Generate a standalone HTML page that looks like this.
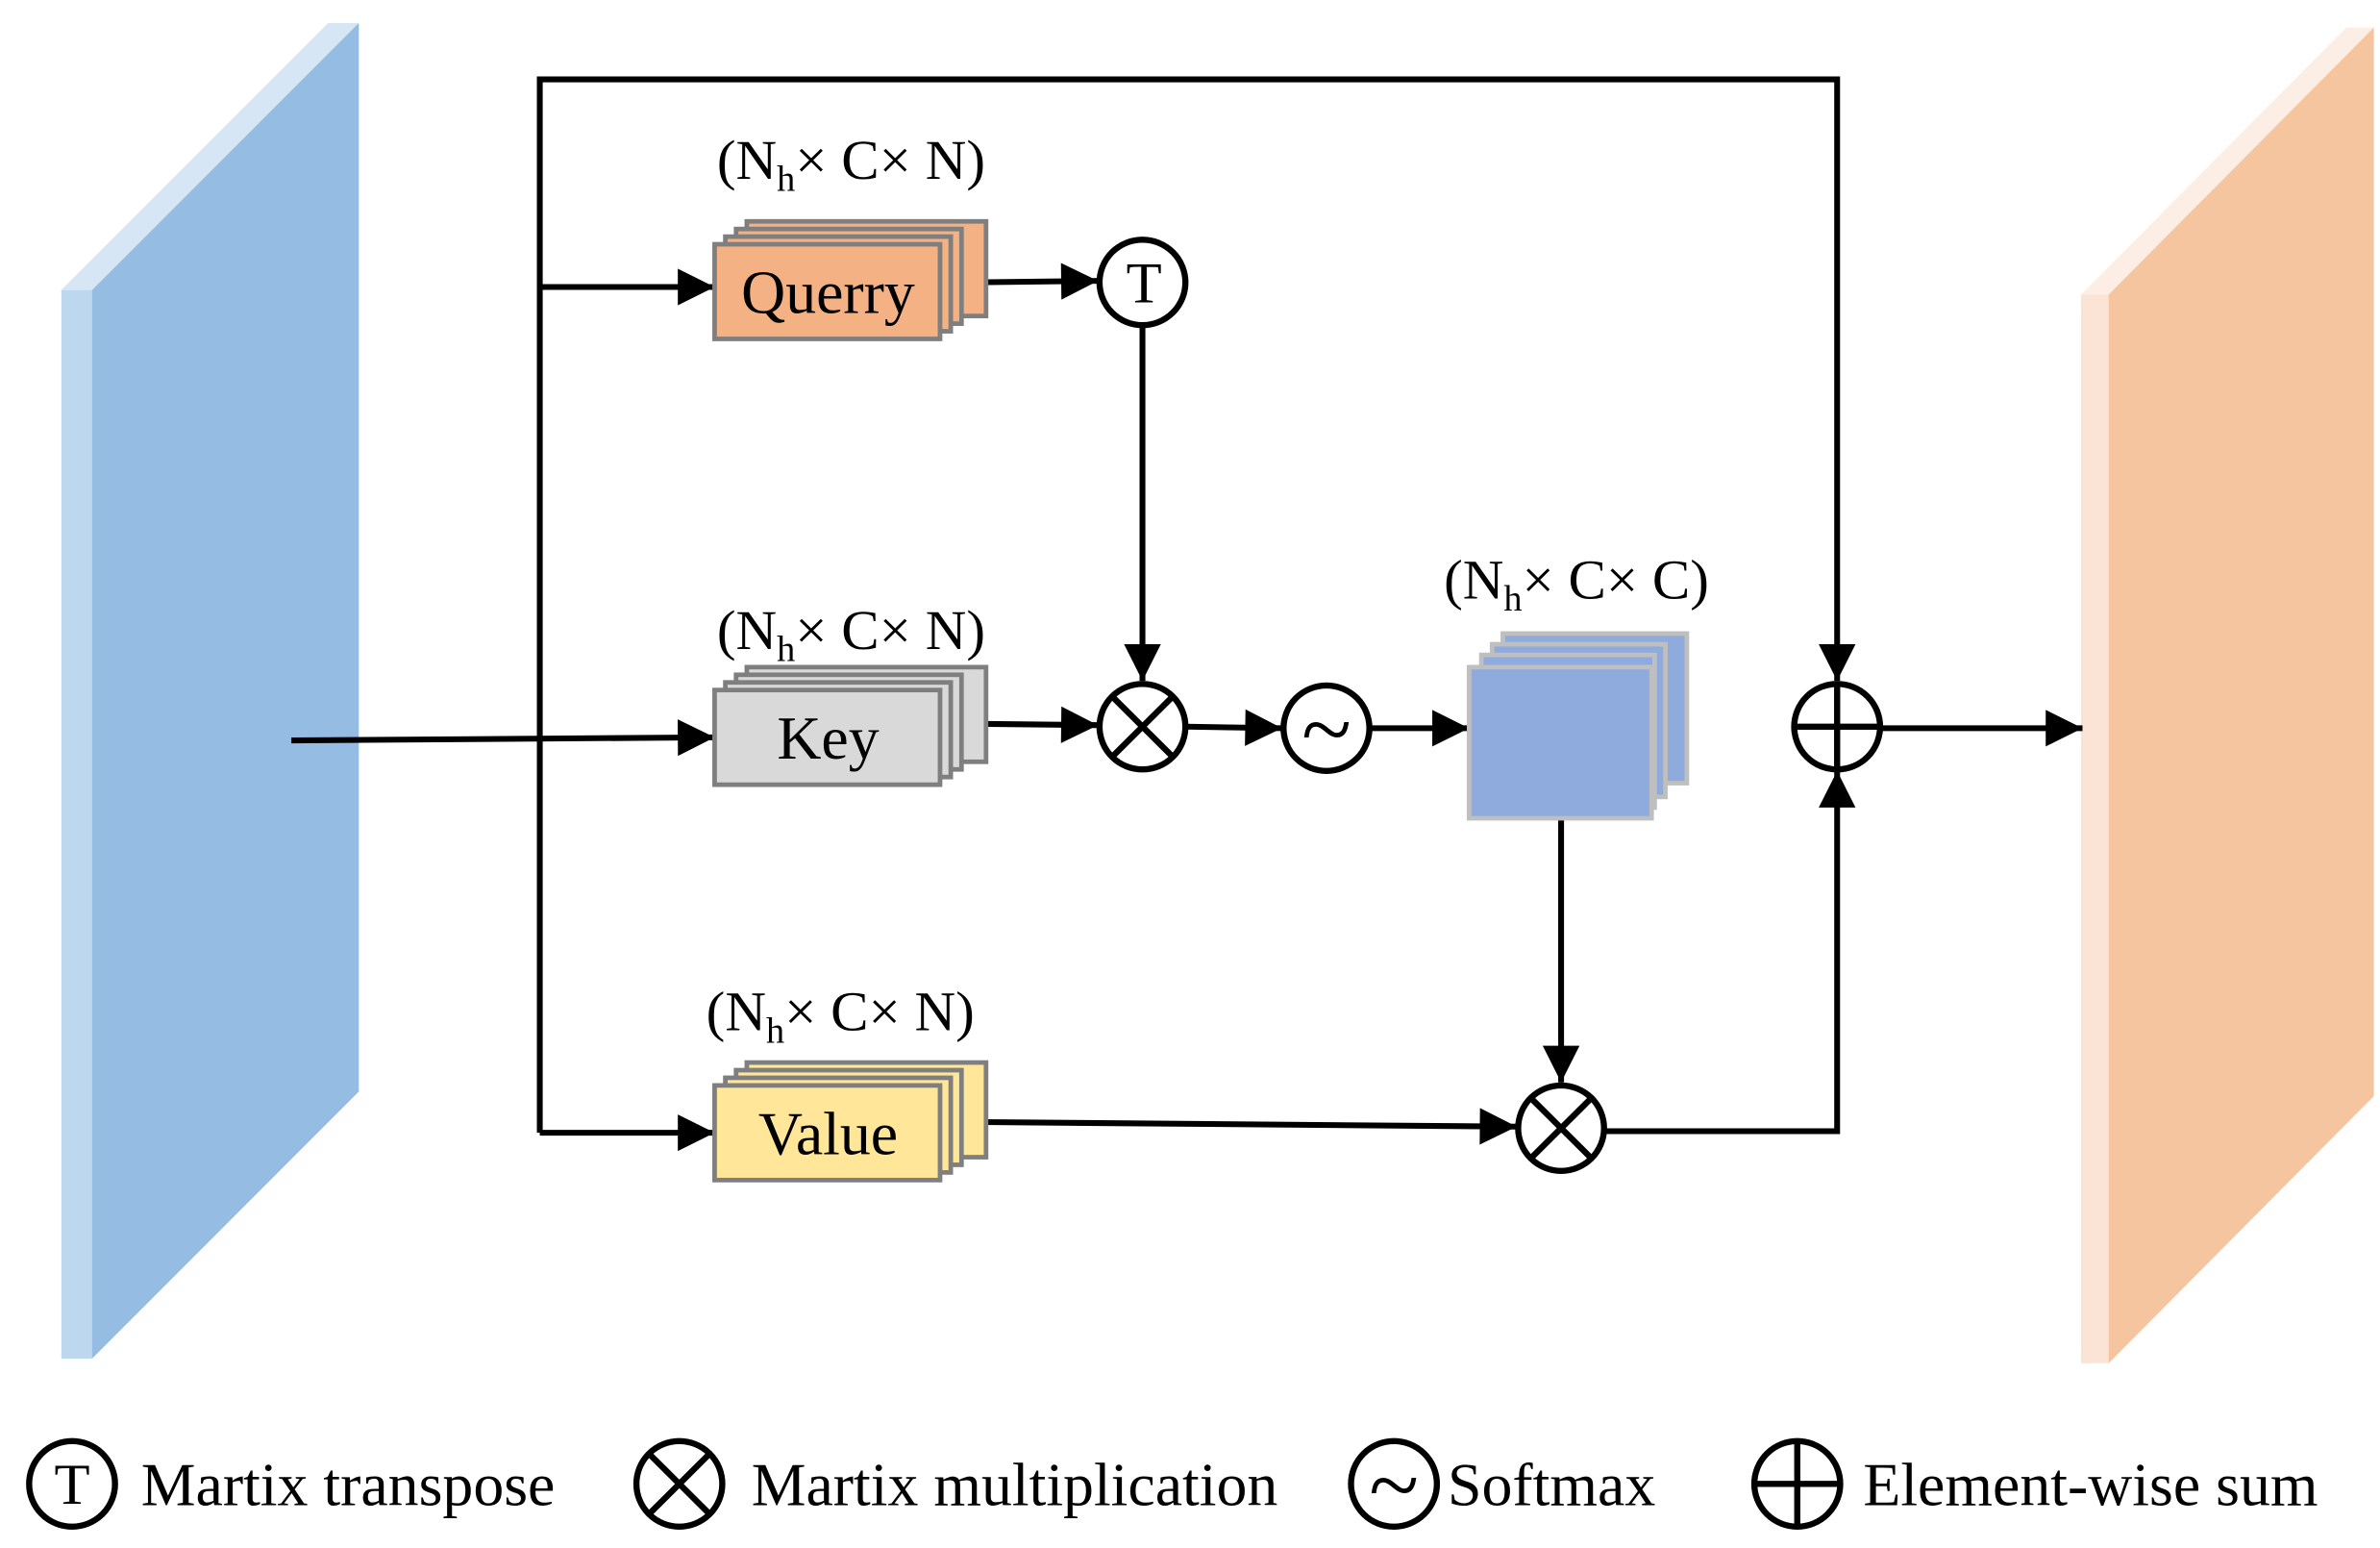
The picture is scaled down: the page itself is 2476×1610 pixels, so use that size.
<!DOCTYPE html>
<html><head><style>html,body{margin:0;padding:0;background:#fff}svg{display:block}text{font-family:"Liberation Serif",serif;fill:#000}</style></head><body>
<svg width="2476" height="1610" viewBox="0 0 1552 1014" preserveAspectRatio="none" xmlns="http://www.w3.org/2000/svg">
<defs>
<marker id="b" viewBox="0 0 10 10" refX="10" refY="5" markerWidth="26" markerHeight="24" orient="auto" markerUnits="userSpaceOnUse"><path d="M0,0L10,5L0,10z" fill="#000"/></marker></defs>
<polygon points="40,190 214,15 234,15 60,190" fill="#d6e6f5"/>
<rect x="40" y="190" width="20" height="700" fill="#bdd7ee"/>
<polygon points="60,190 234,15 234,715 60,890" fill="#95bce2"/>
<polygon points="1357,193 1530,18 1548,18 1375,193" fill="#fdeee5"/>
<rect x="1357" y="193" width="18" height="700" fill="#fbe3d5"/>
<polygon points="1375,193 1548,18 1548,718 1375,893" fill="#f5c5a0"/>
<g stroke="#000" stroke-width="3.8" fill="none">
<polyline points="352,742 352,52 1198,52 1198,446" marker-end="url(#b)"/>
<line x1="352" y1="188" x2="466" y2="188" marker-end="url(#b)"/>
<line x1="352" y1="742" x2="466" y2="742" marker-end="url(#b)"/>
<line x1="190" y1="485" x2="466" y2="483" marker-end="url(#b)"/>
<line x1="632" y1="185" x2="716" y2="184" marker-end="url(#b)"/>
<line x1="745" y1="213" x2="745" y2="446" marker-end="url(#b)"/>
<line x1="625" y1="474" x2="716" y2="475" marker-end="url(#b)"/>
<line x1="773" y1="476" x2="836" y2="477" marker-end="url(#b)"/>
<line x1="893" y1="477" x2="958" y2="477" marker-end="url(#b)"/>
<line x1="1018" y1="536" x2="1018" y2="709" marker-end="url(#b)"/>
<line x1="640" y1="735" x2="989" y2="738" marker-end="url(#b)"/>
<polyline points="1046,741 1198,741 1198,505" marker-end="url(#b)"/>
<line x1="1226" y1="477" x2="1358" y2="477" marker-end="url(#b)"/>
</g>
<g stroke="#7f7f7f" stroke-width="3">
<rect x="487" y="145" width="156" height="62" fill="#f4b183"/><rect x="480" y="150" width="147" height="62" fill="#f4b183"/><rect x="473" y="155" width="147" height="62" fill="#f4b183"/><rect x="466" y="160" width="147" height="62" fill="#f4b183"/>
<rect x="487" y="437" width="156" height="62" fill="#d9d9d9"/><rect x="480" y="442" width="147" height="62" fill="#d9d9d9"/><rect x="473" y="447" width="147" height="62" fill="#d9d9d9"/><rect x="466" y="452" width="147" height="62" fill="#d9d9d9"/>
<rect x="487" y="696" width="156" height="62" fill="#ffe699"/><rect x="480" y="701" width="147" height="62" fill="#ffe699"/><rect x="473" y="706" width="147" height="62" fill="#ffe699"/><rect x="466" y="711" width="147" height="62" fill="#ffe699"/>
</g>
<g stroke="#bfbfbf" stroke-width="3" fill="#8faadc">
<rect x="980" y="415" width="120" height="98"/><rect x="973" y="422" width="113" height="100"/><rect x="966" y="429" width="113" height="100"/><rect x="958" y="437" width="119" height="99"/>
</g>
<g font-size="40" text-anchor="middle"><text x="540" y="205">Querry</text><text x="540" y="497">Key</text><text x="540" y="756">Value</text></g>
<g font-size="37" text-anchor="middle">
<text x="555" y="117">(N<tspan font-size="24" dy="8">h</tspan><tspan dy="-8">× C× N)</tspan></text>
<text x="555" y="425">(N<tspan font-size="24" dy="8">h</tspan><tspan dy="-8">× C× N)</tspan></text>
<text x="548" y="675">(N<tspan font-size="24" dy="8">h</tspan><tspan dy="-8">× C× N)</tspan></text>
<text x="1028" y="392">(N<tspan font-size="24" dy="8">h</tspan><tspan dy="-8">× C× C)</tspan></text>
</g>
<g stroke="#000" stroke-width="4" fill="#fff">
<circle cx="745" cy="185" r="28"/><circle cx="745" cy="476" r="28"/><circle cx="865" cy="477" r="28"/><circle cx="1198" cy="476" r="28"/><circle cx="1018" cy="739" r="28"/>
<path d="M725,456L765,496M765,456L725,496M998,719L1038,759M1038,719L998,759M1170,476H1226M1198,448V504" fill="none"/>
<circle cx="47" cy="972" r="28"/><circle cx="443" cy="972" r="28"/><circle cx="909" cy="972" r="28"/><circle cx="1172" cy="972" r="28"/>
<path d="M423,952L463,992M463,952L423,992M1144,972H1200M1172,944V1000" fill="none"/>
</g>
<g font-size="38" text-anchor="middle"><text x="746" y="198">T</text><text x="47" y="985">T</text></g>
<g font-size="60" text-anchor="middle"><text x="865" y="498">~</text><text x="909" y="993">~</text></g>
<g font-size="40"><text x="92" y="986">Martix transpose</text><text x="490" y="986">Martix multiplication</text><text x="944" y="986">Softmax</text><text x="1215" y="986">Element-wise sum</text></g>
</svg></body></html>
